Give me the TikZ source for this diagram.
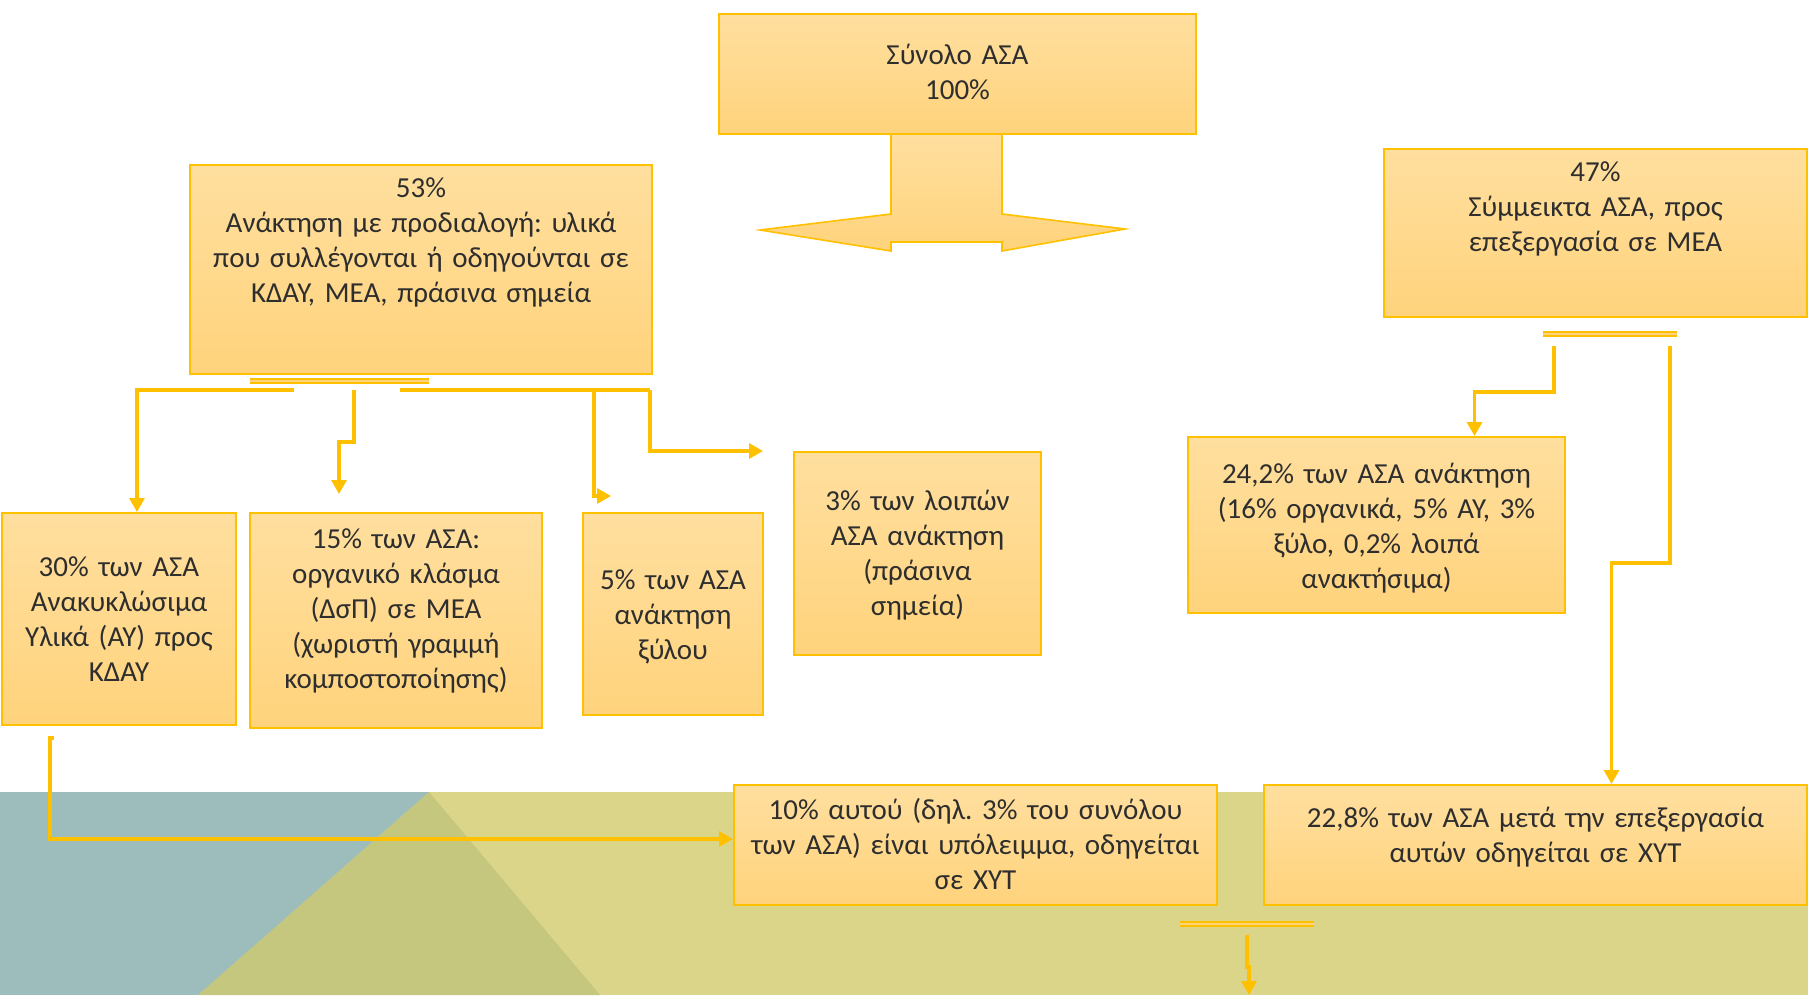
\documentclass[tikz,border=0pt]{standalone}
\usepackage{fontspec}
\setmainfont{Carlito}
\frenchspacing
\usetikzlibrary{arrows.meta}
\definecolor{gold}{HTML}{FFC000}
\definecolor{boxtop}{HTML}{FFDF9F}
\definecolor{boxbot}{HTML}{FFD37C}
\definecolor{inkgray}{HTML}{2E2E2E}
\definecolor{bgteal}{HTML}{9DBDBC}
\definecolor{bgolive}{HTML}{C6C77F}
\definecolor{bgsand}{HTML}{DBD58A}

\begin{document}
\begin{tikzpicture}[x=0.5pt,y=-0.5pt,
    box/.style={draw=gold,line width=1pt,top color=boxtop,bottom color=boxbot,
      inner sep=0pt,align=center,anchor=north west,text=inkgray,
      font=\fontsize{14.5}{17.5}\selectfont},
    link/.style={draw=gold,line width=1.6pt},
    flow/.style={link,-{Triangle[length=7pt,width=7.5pt]}},
    stub/.style={draw=gold,line width=0.8pt,double=boxbot,double distance=1.2pt}]
      \useasboundingbox (0,0) rectangle (1808,995);
      % background band
      \fill[bgteal] (0,792) rectangle (429,995);
      \fill[bgsand] (429,792) rectangle (1808,995);
      \fill[bgolive] (429,792) -- (600,995) -- (198,995) -- cycle;
      % split arrow under the total
      \draw[gold,line width=0.8pt,top color=boxtop,bottom color=boxbot]
        (891,133) -- (891,214) -- (760,230) -- (891,251) -- (891,242) -- (1002,242)
        -- (1002,251) -- (1125,229) -- (1002,214) -- (1002,133) -- cycle;
      \node[box,text width=238.5pt,text height=25.5pt,text depth=34.5pt] (total) at (718,13)
        {Σύνολο ΑΣΑ\\100\%};
      \node[box,text width=231pt,text height=16pt,text depth=88.5pt] (sorted) at (189,164)
        {53\%\\Ανάκτηση με προδιαλογή: υλικά\\που συλλέγονται ή οδηγούνται σε\\ΚΔΑΥ, ΜΕΑ, πράσινα σημεία};
      \node[box,text width=211.5pt,text height=16pt,text depth=68pt] (mixed) at (1383,148)
        {47\%\\Σύμμεικτα ΑΣΑ, προς\\επεξεργασία σε ΜΕΑ};
      \node[box,text width=117pt,text height=31.5pt,text depth=74.5pt] (recyc) at (1,512)
        {30\% των ΑΣΑ\\Ανακυκλώσιμα\\Υλικά (ΑΥ) προς\\ΚΔΑΥ};
      \node[box,text width=146pt,text height=17.5pt,text depth=90pt] (organic) at (249,512)
        {15\% των ΑΣΑ:\\οργανικό κλάσμα\\(ΔσΠ) σε ΜΕΑ\\(χωριστή γραμμή\\κομποστοποίησης)};
      \node[box,text width=90pt,text height=38pt,text depth=63pt] (wood) at (582,512)
        {5\% των ΑΣΑ\\ανάκτηση\\ξύλου};
      \node[box,text width=123.5pt,text height=29pt,text depth=72.5pt] (green) at (793,451)
        {3\% των λοιπών\\ΑΣΑ ανάκτηση\\(πράσινα\\σημεία)};
      \node[box,text width=188.5pt,text height=23pt,text depth=65pt] (recov) at (1187,436)
        {24,2\% των ΑΣΑ ανάκτηση\\(16\% οργανικά, 5\% ΑΥ, 3\%\\ξύλο, 0,2\% λοιπά\\ανακτήσιμα)};
      \node[box,text width=241.5pt,text height=17pt,text depth=43pt] (resid) at (733,784)
        {10\% αυτού (δηλ. 3\% του συνόλου\\των ΑΣΑ) είναι υπόλειμμα, οδηγείται\\σε ΧΥΤ};
      \node[box,text width=271.5pt,text height=21pt,text depth=39pt] (landfill) at (1263,784)
        {22,8\% των ΑΣΑ μετά την επεξεργασία\\αυτών οδηγείται σε ΧΥΤ};
      % double stubs
      \draw[stub] (250,381) -- (429,381);
      \draw[stub] (1543,334) -- (1677,334);
      \draw[stub] (1180,924) -- (1314,924);
      % connectors
      \coordinate (b1) at (294,390);
      \coordinate (b2) at (354,390);
      \coordinate (b3) at (400,390);
      \coordinate (b4) at (594,390);
      \coordinate (b5) at (650,390);
      \coordinate (c1) at (1554,346);
      \coordinate (c2) at (1670,346);
      \coordinate (d1) at (50,738);
      \coordinate (e1) at (1247,935);
      \coordinate (e2) at (1249,995);
      \draw[flow] (b1) -| ([xshift=9pt]recyc.north);
      \draw[flow] (b2) -- ++(0,52) -- ++(-15,0) -- ++(0,52);
      \draw[link] (b3) -- (b5);
      \draw[flow] (b4) -- ++(0,106) -- ++(17,0);
      \draw[flow] (b5) |- ([xshift=-15pt]green.north west);
      \draw[flow] (c1) -- ++(0,46) -| ([xshift=49pt]recov.north);
      \draw[flow] (c2) -- ++(0,217) -| ([xshift=38pt]landfill.north);
      \draw[flow] ([xshift=2pt]d1) -- (d1) |- ([yshift=3pt]resid.west);
      \draw[flow] (e1) -- ++(0,32) -- ++(2,0) -- (e2);
\end{tikzpicture}
\end{document}
